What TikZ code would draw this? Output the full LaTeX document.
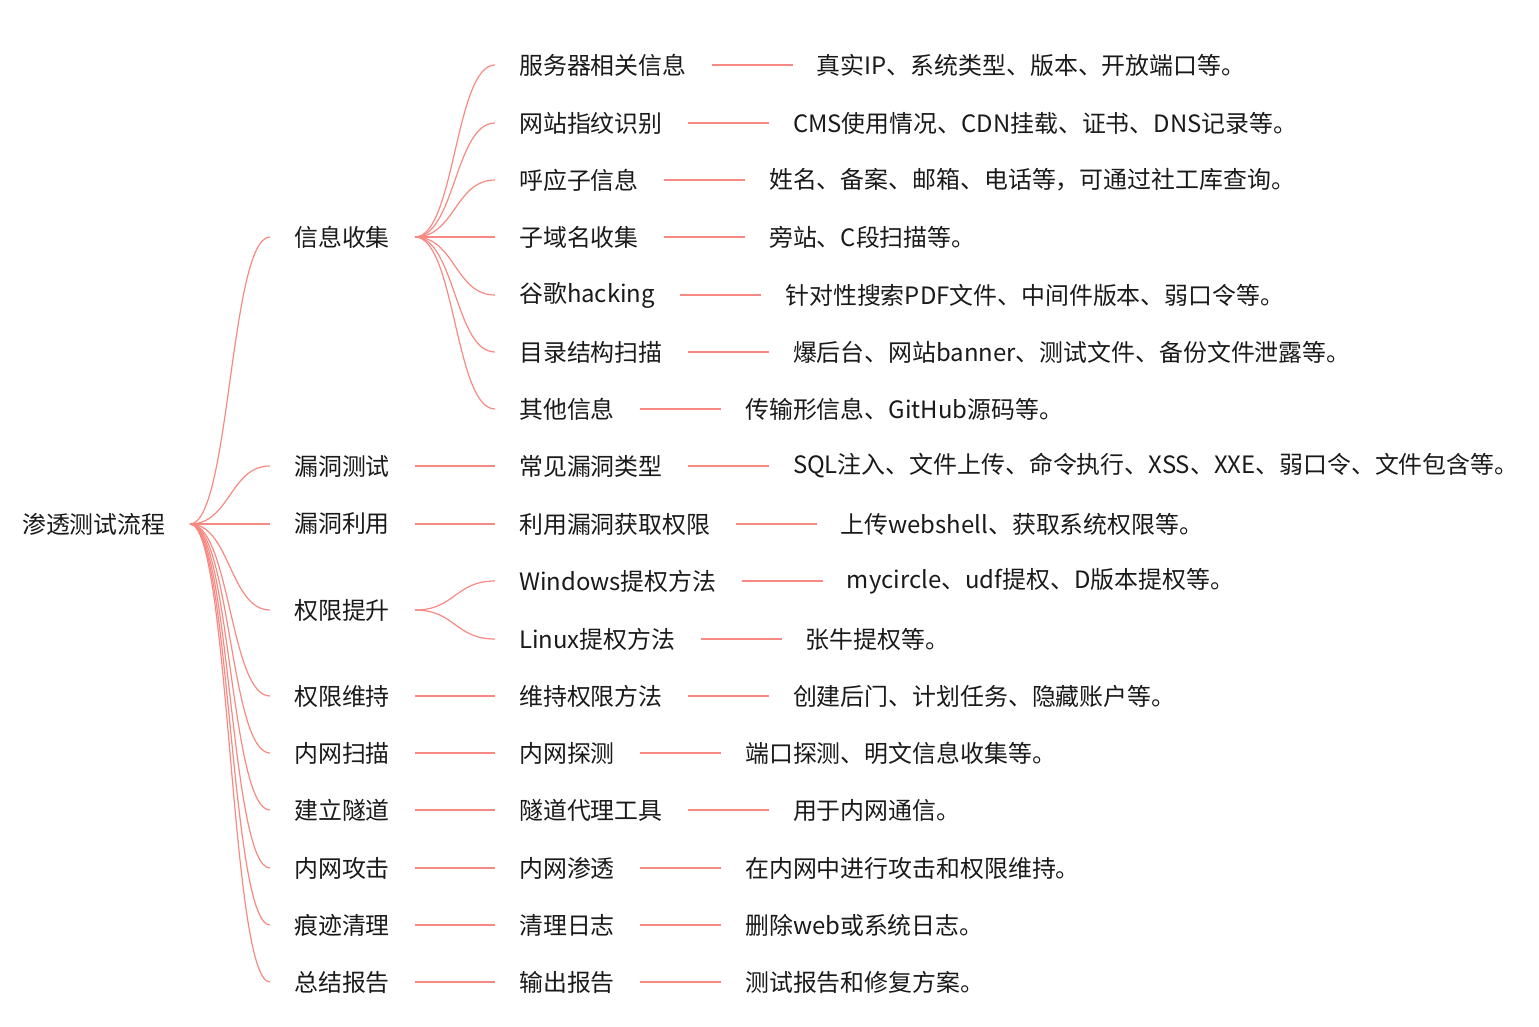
\documentclass[tikz,border=0pt]{standalone}
\usepackage{fontspec}
\setmainfont{Noto Sans CJK SC}
\usetikzlibrary{calc}
\definecolor{ln}{HTML}{F68A82}
\definecolor{tx}{HTML}{1A1A1A}
\tikzset{lbl/.style={anchor=west,inner sep=0pt,text=tx,font=\fontsize{23.9}{27}\selectfont},
 conn/.style={draw=ln,line width=1.2pt}}
\newcommand\twig[4]{%
 \node[lbl] (b#1) at (519,#2) {#3};
 \coordinate (s#1) at ($(b#1.east)+(25,0)$);
 \coordinate (e#1) at ($(s#1)+(81,0)$);
 \draw[conn] (s#1) -- (e#1);
 \node[lbl] (c#1) at ($(e#1)+(24,0)$) {#4};}
\newcommand\branch[3]{%
 \node[lbl] (a#1) at (294,#2) {#3};
 \coordinate (t#1) at (270,#2);
 \coordinate (u#1) at (415,#2);
 \draw[conn] (r) .. controls (230,524) and (230,#2) .. (t#1);}
\begin{document}
\begin{tikzpicture}[x=1pt,y=-1pt]
\useasboundingbox (0,0) rectangle (1539,1026);
\node[lbl] (root) at (22,524) {渗透测试流程};
\coordinate (r) at (190,524);
\branch{1}{237}{信息收集}
\branch{2}{466}{漏洞测试}
\branch{3}{524}{漏洞利用}
\branch{4}{610}{权限提升}
\branch{5}{696}{权限维持}
\branch{6}{753}{内网扫描}
\branch{7}{810}{建立隧道}
\branch{8}{868}{内网攻击}
\branch{9}{925}{痕迹清理}
\branch{10}{982}{总结报告}
\twig{11}{65}{服务器相关信息}{真实IP、系统类型、版本、开放端口等。}
\twig{12}{123}{网站指纹识别}{CMS使用情况、CDN挂载、证书、DNS记录等。}
\twig{13}{180}{呼应子信息}{姓名、备案、邮箱、电话等，可通过社工库查询。}
\twig{14}{237}{子域名收集}{旁站、C段扫描等。}
\twig{15}{295}{谷歌hacking}{针对性搜索PDF文件、中间件版本、弱口令等。}
\twig{16}{352}{目录结构扫描}{爆后台、网站banner、测试文件、备份文件泄露等。}
\twig{17}{409}{其他信息}{传输形信息、GitHub源码等。}
\foreach \i/\y in {11/65,12/123,13/180,14/237,15/295,16/352,17/409}{
 \coordinate (v\i) at (495,\y);
 \draw[conn] (u1) .. controls (455,237) and (455,\y) .. (v\i);}
\twig{2}{466}{常见漏洞类型}{SQL注入、文件上传、命令执行、XSS、XXE、弱口令、文件包含等。}
\twig{3}{524}{利用漏洞获取权限}{上传webshell、获取系统权限等。}
\twig{41}{581}{Windows提权方法}{mycircle、udf提权、D版本提权等。}
\twig{42}{639}{Linux提权方法}{张牛提权等。}
\coordinate (v41) at (495,581); \coordinate (v42) at (495,639);
\draw[conn] (u4) .. controls (455,610) and (455,581) .. (v41);
\draw[conn] (u4) .. controls (455,610) and (455,639) .. (v42);
\twig{5}{696}{维持权限方法}{创建后门、计划任务、隐藏账户等。}
\twig{6}{753}{内网探测}{端口探测、明文信息收集等。}
\twig{7}{810}{隧道代理工具}{用于内网通信。}
\twig{8}{868}{内网渗透}{在内网中进行攻击和权限维持。}
\twig{9}{925}{清理日志}{删除web或系统日志。}
\twig{10}{982}{输出报告}{测试报告和修复方案。}
\foreach \i/\y in {2/466,3/524,5/696,6/753,7/810,8/868,9/925,10/982}{
 \coordinate (w\i) at (495,\y);
 \draw[conn] (u\i) -- (w\i);}
\end{tikzpicture}
\end{document}
